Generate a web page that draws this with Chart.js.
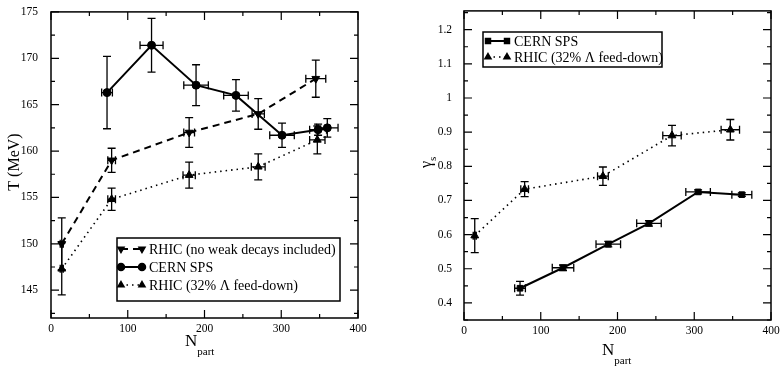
<!DOCTYPE html>
<html lang="en">
<head>
<meta charset="UTF-8">
<title>T and gamma_s vs N_part</title>
<script src="https://cdn.jsdelivr.net/npm/chart.js"></script>
<style>
  body { margin: 0; background: #fff; overflow: hidden; }
  .panel { position: absolute; top: 0; }
</style>
</head>
<body>
<div class="panel" style="left:0"><canvas id="tChart" width="390" height="370"></canvas></div>
<div class="panel" style="left:390px"><canvas id="gChart" width="400" height="370"></canvas></div>

<script>
// ---- left panel: freeze-out temperature T (MeV) ----
const tSpsN    = [73, 131, 189, 241, 301, 348, 360];
const tSpsT    = [166.3, 171.4, 167.1, 166.0, 161.7, 162.3, 162.5];
const tSpsTErr = [3.9, 2.9, 2.2, 1.7, 1.3, 0.6, 1.0];
const tSpsNErr = [7, 15, 16, 16, 16, 11, 14];

const tRhicNoWdN    = [14, 79, 180, 270, 345];
const tRhicNoWdT    = [150.0, 159.0, 162.0, 164.0, 167.8];
const tRhicNoWdTErr = [2.8, 1.3, 1.6, 1.65, 2.0];
const tRhicNoWdNErr = [2, 5, 7, 8, 13];

const tRhicFdN    = [14, 79, 180, 270, 347];
const tRhicFdT    = [147.3, 154.8, 157.4, 158.3, 161.2];
const tRhicFdTErr = [2.8, 1.2, 1.4, 1.4, 1.5];
const tRhicFdNErr = [2, 5, 8, 9, 10];

const tYTicks  = [145, 150, 155, 160, 165, 170, 175];
const nXTicks  = [0, 100, 200, 300, 400];

// ---- right panel: strangeness saturation gamma_s ----
const gSpsN    = [73, 129, 188, 241, 305, 362];
const gSpsG    = [0.443, 0.503, 0.572, 0.633, 0.725, 0.717];
const gSpsGErr = [0.02, 0.008, 0.008, 0.008, 0.006, 0.005];
const gSpsNErr = [7, 14, 16, 16, 16, 13];

const gRhicN    = [14, 79, 181, 271, 347];
const gRhicG    = [0.597, 0.733, 0.771, 0.890, 0.907];
const gRhicGErr = [0.05, 0.022, 0.027, 0.03, 0.03];
const gRhicNErr = [2, 5, 7, 12, 12];

const gYTicks  = [0.4, 0.5, 0.6, 0.7, 0.8, 0.9, 1.0, 1.1, 1.2];
const gYLabels = ['0.4', '0.5', '0.6', '0.7', '0.8', '0.9', '1', '1.1', '1.2'];

const labelNoWd = 'RHIC (no weak decays included)';
const labelSps  = 'CERN SPS';
const labelFd   = 'RHIC (32% \u039B feed-down)';

const serif = "'Liberation Serif', 'DejaVu Serif', serif";

// turn two arrays into {x, y} points
const pts = (xs, ys) => xs.map((x, i) => ({ x, y: ys[i] }));

// plugin: error bars, frame with inward ticks, boxed legend, axis titles
const deco = {
  id: 'deco',
  beforeDatasetsDraw(chart) {
    const ctx = chart.ctx, xs = chart.scales.x, ys = chart.scales.y;
    ctx.save();
    ctx.strokeStyle = '#000';
    ctx.lineWidth = 1.3;
    ctx.setLineDash([]);
    const cap = 4;
    chart.data.datasets.forEach(ds => {
      ds.data.forEach((p, j) => {
        const px = xs.getPixelForValue(p.x), py = ys.getPixelForValue(p.y);
        const yTop = ys.getPixelForValue(p.y + ds.yErr[j]);
        const yBot = ys.getPixelForValue(p.y - ds.yErr[j]);
        const xL = xs.getPixelForValue(p.x - ds.xErr[j]);
        const xR = xs.getPixelForValue(p.x + ds.xErr[j]);
        ctx.beginPath();
        ctx.moveTo(px, yTop); ctx.lineTo(px, yBot);
        ctx.moveTo(px - cap, yTop); ctx.lineTo(px + cap, yTop);
        ctx.moveTo(px - cap, yBot); ctx.lineTo(px + cap, yBot);
        ctx.moveTo(xL, py); ctx.lineTo(xR, py);
        ctx.moveTo(xL, py - cap); ctx.lineTo(xL, py + cap);
        ctx.moveTo(xR, py - cap); ctx.lineTo(xR, py + cap);
        ctx.stroke();
      });
    });
    ctx.restore();
  },
  afterDraw(chart, args, o) {
    const ctx = chart.ctx, a = chart.chartArea;
    const xs = chart.scales.x, ys = chart.scales.y;
    ctx.save();
    ctx.strokeStyle = '#000';
    ctx.fillStyle = '#000';
    ctx.setLineDash([]);

    // frame
    ctx.lineWidth = 1.5;
    ctx.strokeRect(a.left, a.top, a.right - a.left, a.bottom - a.top);

    // inward ticks on all four sides (minor ticks halfway between majors)
    ctx.lineWidth = 1.2;
    const tick = (v, len, axis) => {
      ctx.beginPath();
      if (axis === 'x') {
        const p = xs.getPixelForValue(v);
        ctx.moveTo(p, a.bottom); ctx.lineTo(p, a.bottom - len);
        ctx.moveTo(p, a.top); ctx.lineTo(p, a.top + len);
      } else {
        const p = ys.getPixelForValue(v);
        if (p < a.top || p > a.bottom) return;
        ctx.moveTo(a.left, p); ctx.lineTo(a.left + len, p);
        ctx.moveTo(a.right, p); ctx.lineTo(a.right - len, p);
      }
      ctx.stroke();
    };
    o.xTicks.forEach((v, i) => {
      tick(v, 8, 'x');
      if (i > 0) tick((v + o.xTicks[i - 1]) / 2, 4, 'x');
    });
    o.yTicks.forEach((v, i) => {
      tick(v, 8, 'y');
      const step = o.yTicks[1] - o.yTicks[0];
      tick(v - step / 2, 4, 'y');
      if (i === o.yTicks.length - 1) tick(v + step / 2, 4, 'y');
    });

    // legend box
    const L = o.legend;
    ctx.lineWidth = 1.5;
    ctx.strokeRect(L.x, L.y, L.w, L.h);
    ctx.font = '14px ' + serif;
    ctx.textBaseline = 'middle';
    L.items.forEach((dsIndex, k) => {
      const ds = chart.data.datasets[dsIndex];
      const yy = L.rowY[k];
      ctx.save();
      ctx.lineWidth = ds.borderWidth;
      ctx.setLineDash(ds.borderDash || []);
      ctx.beginPath();
      ctx.moveTo(L.m1, yy); ctx.lineTo(L.m2, yy);
      ctx.stroke();
      ctx.restore();
      [L.m1, L.m2].forEach(mx => {
        Chart.helpers.drawPoint(ctx, {
          pointStyle: ds.pointStyle, rotation: ds.rotation || 0,
          radius: 3.5, borderWidth: 1
        }, mx, yy);
      });
      ctx.fillText(ds.label, L.tx, yy + 1);
    });

    // x axis title: N with subscript "part"
    ctx.textBaseline = 'alphabetic';
    ctx.textAlign = 'left';
    ctx.font = '17px ' + serif;
    ctx.fillText('N', o.nx, o.ny);
    const nw = ctx.measureText('N').width;
    ctx.font = '11px ' + serif;
    ctx.fillText('part', o.nx + nw, o.ny + 9);

    // y axis title, rotated
    ctx.translate(o.yt.x, o.yt.y);
    ctx.rotate(-Math.PI / 2);
    ctx.font = '16px ' + serif;
    if (o.yt.sub) {
      ctx.fillText(o.yt.text, 0, 0);
      const w = ctx.measureText(o.yt.text).width;
      ctx.font = '11px ' + serif;
      ctx.fillText(o.yt.sub, w, 5);
    } else {
      ctx.textAlign = 'center';
      ctx.fillText(o.yt.text, 0, 0);
    }
    ctx.restore();
  }
};

function axisOpts(min, max, ticks, labels, pad, fit) {
  return {
    type: 'linear', min, max,
    grid: { display: false },
    border: { display: false },
    afterBuildTicks: s => { s.ticks = ticks.map(v => ({ value: v })); },
    afterFit: fit,
    ticks: {
      color: '#000', padding: pad,
      font: { family: serif, size: 11.5 },
      callback: (v) => {
        const i = ticks.findIndex(t => Math.abs(t - v) < 1e-9);
        return labels ? labels[i] : String(v);
      }
    }
  };
}

function series(label, xs, ys, xErr, yErr, style) {
  return Object.assign({
    label, data: pts(xs, ys), xErr, yErr,
    showLine: true, borderColor: '#000', backgroundColor: '#000',
    pointBackgroundColor: '#000', pointBorderColor: '#000',
    pointBorderWidth: 1, pointHoverRadius: 4
  }, style);
}

const solid  = { borderWidth: 2, pointStyle: 'circle', pointRadius: 4 };
const dashed = { borderWidth: 2, borderDash: [7, 5], pointStyle: 'triangle', rotation: 180, pointRadius: 4.5 };
const dotted = { borderWidth: 1.6, borderDash: [1.5, 4], pointStyle: 'triangle', pointRadius: 4.5 };

// left chart
new Chart(document.getElementById('tChart'), {
  type: 'scatter',
  data: {
    datasets: [
      series(labelNoWd, tRhicNoWdN, tRhicNoWdT, tRhicNoWdNErr, tRhicNoWdTErr, dashed),
      series(labelSps, tSpsN, tSpsT, tSpsNErr, tSpsTErr, solid),
      series(labelFd, tRhicFdN, tRhicFdT, tRhicFdNErr, tRhicFdTErr, dotted)
    ]
  },
  options: {
    responsive: false, animation: false, devicePixelRatio: 1,
    layout: { padding: { left: 0, right: 32, top: 6, bottom: 0 } },
    scales: {
      x: axisOpts(0, 400, nXTicks, null, -4, s => { s.height = 52; }),
      y: axisOpts(142, 175, tYTicks, null, 5, s => { s.width = 51; })
    },
    plugins: {
      legend: { display: false },
      tooltip: { enabled: false },
      deco: {
        xTicks: nXTicks, yTicks: tYTicks,
        legend: { x: 117, y: 238, w: 223, h: 63, rowY: [249, 267, 285], m1: 121, m2: 142, tx: 149, items: [0, 1, 2] },
        nx: 185, ny: 346,
        yt: { x: 19, y: 162, text: 'T (MeV)' }
      }
    }
  },
  plugins: [deco]
});

// right chart
new Chart(document.getElementById('gChart'), {
  type: 'scatter',
  data: {
    datasets: [
      series(labelSps, gSpsN, gSpsG, gSpsNErr, gSpsGErr, Object.assign({}, solid, { pointStyle: 'rect', pointRadius: 4 })),
      series(labelFd, gRhicN, gRhicG, gRhicNErr, gRhicGErr, dotted)
    ]
  },
  options: {
    responsive: false, animation: false, devicePixelRatio: 1,
    layout: { padding: { left: 0, right: 19, top: 8, bottom: 0 } },
    scales: {
      x: axisOpts(0, 400, nXTicks, null, -4, s => { s.height = 50; }),
      y: axisOpts(0.35, 1.255, gYTicks, gYLabels, 4, s => { s.width = 74; })
    },
    plugins: {
      legend: { display: false },
      tooltip: { enabled: false },
      deco: {
        xTicks: nXTicks, yTicks: gYTicks,
        legend: { x: 93, y: 32, w: 179, h: 35, rowY: [41, 57], m1: 98, m2: 117, tx: 124, items: [0, 1] },
        nx: 212, ny: 355,
        yt: { x: 41, y: 168, text: '\u03B3', sub: 's' }
      }
    }
  },
  plugins: [deco]
});
</script>
</body>
</html>
